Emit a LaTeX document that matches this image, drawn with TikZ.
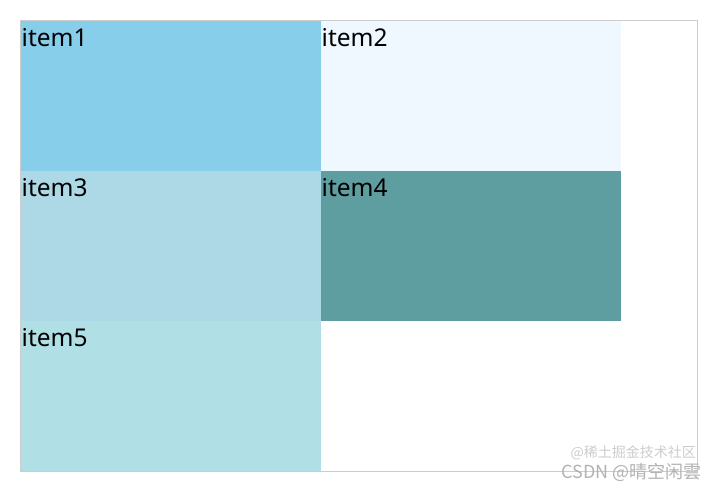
\documentclass[tikz,border=0pt]{standalone}
\usepackage{fontspec}
\setmainfont{Noto Sans}
\newfontfamily\cjk{Noto Sans CJK SC}
\definecolor{cskyblue}{HTML}{87CEEB}
\definecolor{caliceblue}{HTML}{F0F8FF}
\definecolor{clightblue}{HTML}{ADD8E6}
\definecolor{ccadetblue}{HTML}{5F9EA0}
\definecolor{cpowderblue}{HTML}{B0E0E6}
\tikzset{
  cell/.style={minimum width=300pt, minimum height=150pt, inner sep=0pt, outer sep=0pt, anchor=north west},
  lbl/.style={font=\fontsize{24.5}{26}\selectfont, inner sep=0pt, anchor=north west, text=black},
  wm/.style={text=gray!60, font=\cjk\fontsize{17}{18}\selectfont, inner sep=0pt}
}
\begin{document}
\begin{tikzpicture}[x=1pt,y=-1pt]
\useasboundingbox (0,0) rectangle (716,491);
\node[draw=black!20, line width=0.8pt, minimum width=677pt, minimum height=451pt, inner sep=0pt, anchor=north west] (box) at (20,20) {};
\node[cell, fill=cskyblue] (i1) at (20.5,20.5) {};
\node[cell, fill=caliceblue] (i2) at (320.5,20.5) {};
\node[cell, fill=clightblue] (i3) at (20.5,170.5) {};
\node[cell, fill=ccadetblue] (i4) at (320.5,170.5) {};
\node[cell, fill=cpowderblue] (i5) at (20.5,320.5) {};
\node[lbl] (t1) at ([xshift=1pt,yshift=-8pt]i1.north west) {item1};
\node[lbl] (t2) at ([xshift=1pt,yshift=-8pt]i2.north west) {item2};
\node[lbl] (t3) at ([xshift=1pt,yshift=-8pt]i3.north west) {item3};
\node[lbl] (t4) at ([xshift=1pt,yshift=-8pt]i4.north west) {item4};
\node[lbl] (t5) at ([xshift=1pt,yshift=-8pt]i5.north west) {item5};
\node[wm, anchor=east, text=gray!40, font=\cjk\fontsize{14}{15}\selectfont] (w2) at (696,453) {@稀土掘金技术社区};
\node[wm, anchor=east, font=\cjk\fontsize{18}{19}\selectfont] (w1) at (702,472) {CSDN @晴空闲雲};
\end{tikzpicture}
\end{document}
